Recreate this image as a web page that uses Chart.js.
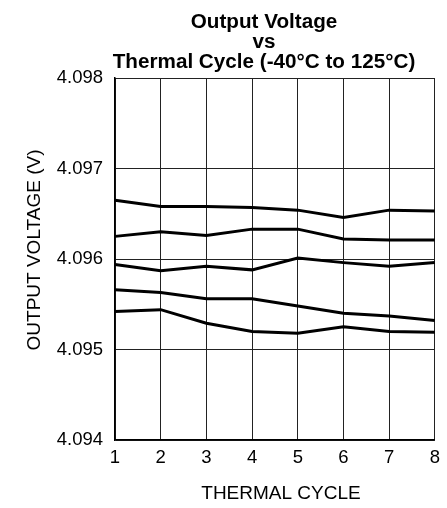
<!DOCTYPE html>
<html>
<head>
<meta charset="utf-8">
<script src="https://cdn.jsdelivr.net/npm/chart.js@4/dist/chart.umd.min.js"></script>
<style>
  html, body { margin: 0; padding: 0; background: #fff; }
  #wrap { width: 447px; height: 508px; position: relative; }
</style>
</head>
<body>
<div id="wrap"><canvas id="voltChart" width="447" height="508"></canvas></div>
<script>
"use strict";

// thermal cycle numbers
const cycles = ["1", "2", "3", "4", "5", "6", "7", "8"];
const yTicks = [4.094, 4.095, 4.096, 4.097, 4.098];

// output voltage per unit (V)
const unitA = [4.09665, 4.09658, 4.09658, 4.09657, 4.09654, 4.09646, 4.09654, 4.09653];
const unitB = [4.09625, 4.0963, 4.09626, 4.09633, 4.09633, 4.09622, 4.09621, 4.09621];
const unitC = [4.09594, 4.09587, 4.09592, 4.09588, 4.09601, 4.09596, 4.09592, 4.09596];
const unitD = [4.09566, 4.09563, 4.09556, 4.09556, 4.09548, 4.0954, 4.09537, 4.09532];
const unitE = [4.09542, 4.09544, 4.09529, 4.0952, 4.09518, 4.09525, 4.0952, 4.09519];

const FONT = "'Liberation Sans', Arial, sans-serif";

const mkLine = (vals) => ({
  data: vals,
  borderColor: "#000",
  borderWidth: 3,
  pointRadius: 0,
  tension: 0,
  fill: false,
});

// titles drawn by hand so they sit where the original has them
const textPlugin = {
  id: "textPlugin",
  afterDraw(chart) {
    const ctx = chart.ctx;
    ctx.save();
    ctx.fillStyle = "#000";
    ctx.textAlign = "center";
    ctx.textBaseline = "alphabetic";
    // the original title is a bit wide for its height
    ctx.save();
    ctx.translate(264, 0);
    ctx.scale(1.06, 1);
    ctx.font = "bold 19.5px " + FONT;
    ctx.fillText("Output Voltage", 0, 28);
    ctx.fillText("vs", 0, 47.5);
    ctx.fillText("Thermal Cycle (-40°C to 125°C)", 0, 67.5);
    ctx.restore();

    ctx.font = "19px " + FONT;
    ctx.textBaseline = "middle";
    ctx.fillText("THERMAL CYCLE", 281, 494);

    ctx.translate(35, 250);
    ctx.rotate(-Math.PI / 2);
    ctx.fillText("OUTPUT VOLTAGE (V)", 0, 0);
    ctx.restore();
  },
};

new Chart(document.getElementById("voltChart"), {
  type: "line",
  data: {
    labels: cycles,
    datasets: [unitA, unitB, unitC, unitD, unitE].map(mkLine),
  },
  options: {
    responsive: false,
    animation: false,
    devicePixelRatio: 1,
    layout: { padding: { left: 0, top: 78, right: 10, bottom: 0 } },
    plugins: {
      legend: { display: false },
      tooltip: { enabled: false },
      title: { display: false },
    },
    scales: {
      x: {
        type: "category",
        offset: false,
        afterFit: (scale) => { scale.height = 68; },
        grid: { color: "#222", lineWidth: 1, drawTicks: false },
        border: { color: "#000", width: 1.5 },
        ticks: {
          color: "#000",
          font: { family: FONT, size: 18.5 },
          padding: 7,
          maxRotation: 0,
        },
      },
      y: {
        min: 4.094,
        max: 4.098,
        afterFit: (scale) => { scale.width = 115; },
        afterBuildTicks: (scale) => { scale.ticks = yTicks.map((v) => ({ value: v })); },
        grid: { color: "#222", lineWidth: 1, drawTicks: false },
        border: { color: "#000", width: 1.5 },
        ticks: {
          color: "#000",
          font: { family: FONT, size: 18.5 },
          padding: 12,
          callback: (v) => Number(v).toFixed(3),
        },
      },
    },
  },
  plugins: [textPlugin],
});
</script>
</body>
</html>
